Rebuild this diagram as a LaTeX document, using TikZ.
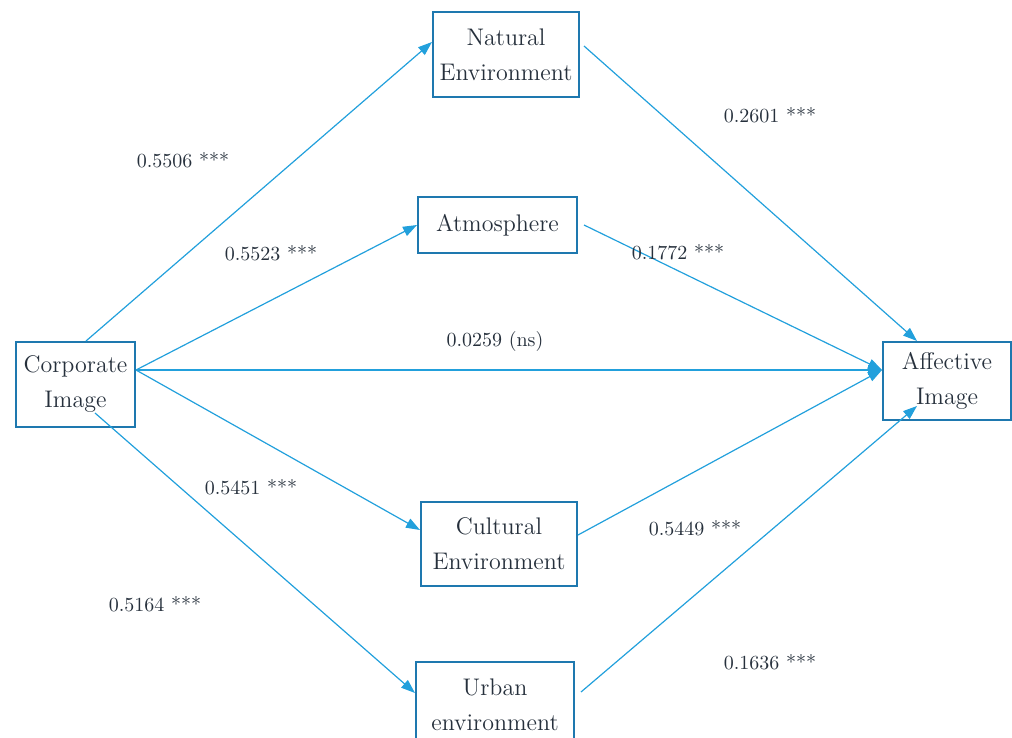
\documentclass[tikz,border=0pt]{standalone}
\usepackage{tikz}
\usetikzlibrary{arrows.meta,positioning}
\definecolor{linkblue}{RGB}{34,160,220}
\definecolor{boxblue}{RGB}{30,120,175}
\definecolor{inkgrey}{RGB}{38,48,60}

\begin{document}
\begin{tikzpicture}[x=0.5pt,y=-0.5pt,% one unit = one pixel of the layout
        box/.style={draw=boxblue,line width=1pt,text=inkgrey,font=\large,align=center,inner sep=2pt},% construct boxes
        link/.style={draw=linkblue,line width=0.6pt,-{Triangle[length=7pt,width=5pt]}},% path arrows
        coef/.style={text=inkgrey,font=\normalsize}]
\useasboundingbox (0,0) rectangle (1012,738);
\clip (0,0) rectangle (1012,738); % the lowest box runs off the page

% constructs
\node[box,minimum width=59.5pt,minimum height=42.5pt] (CI) at (75.5,384.5) {Corporate\\[3.5pt]Image};
\node[box,minimum width=64pt,minimum height=39pt] (AI) at (947,381) {Affective\\[3.5pt]Image};
\node[box,minimum width=73pt,minimum height=42.5pt] (NE) at (506,54.5) {Natural\\[3.5pt]Environment};
\node[box,minimum width=79.5pt,minimum height=28pt] (AT) at (497.5,225) {Atmosphere};
\node[box,minimum width=78pt,minimum height=42pt] (CE) at (499,544) {Cultural\\[3.5pt]Environment};
\node[box,minimum width=79pt,minimum height=43pt] (UE) at (495,705) {Urban\\[3.5pt]environment};

\coordinate (CIout) at ([yshift=7.25pt]CI.east); % common start of the three right-hand arrows
\coordinate (AIin) at ([yshift=5.5pt]AI.west);   % common tip on the affective box

% paths from corporate image
\draw[link] ([xshift=5.25pt]CI.north) -- ([yshift=6.25pt]NE.west);
\draw[link] (CIout) -- (AT.west);
\draw[link] (CIout) -- (AIin);
\draw[link] (CIout) -- ([yshift=7pt]CE.west);
\draw[link] ([xshift=9.75pt,yshift=-14.25pt]CI.center) -- ([yshift=6pt]UE.west);

% paths to affective image
\draw[link] ([xshift=2pt,yshift=4.25pt]NE.east) -- ([xshift=-15pt]AI.north);
\draw[link] ([xshift=3pt]AT.east) -- (AIin);
\draw[link] ([yshift=4.5pt]CE.east) -- (AIin);
\draw[link] ([xshift=3pt,yshift=6.5pt]UE.east) -- ([xshift=-15pt,yshift=-12.5pt]AI.center);

% coefficients
\foreach[count=\i] \v/\x/\y in {0.5506 ***/183/160, 0.5523 ***/271/253, 0.0259 (ns)/495/341,
        0.5451 ***/251/487, 0.5164 ***/155/604, 0.2601 ***/770/115,
        0.1772 ***/678/252, 0.5449 ***/695/528, 0.1636 ***/770/662}{
\node[coef] (coef-\i) at (\x,\y) {\v};
}
\end{tikzpicture}
\end{document}
